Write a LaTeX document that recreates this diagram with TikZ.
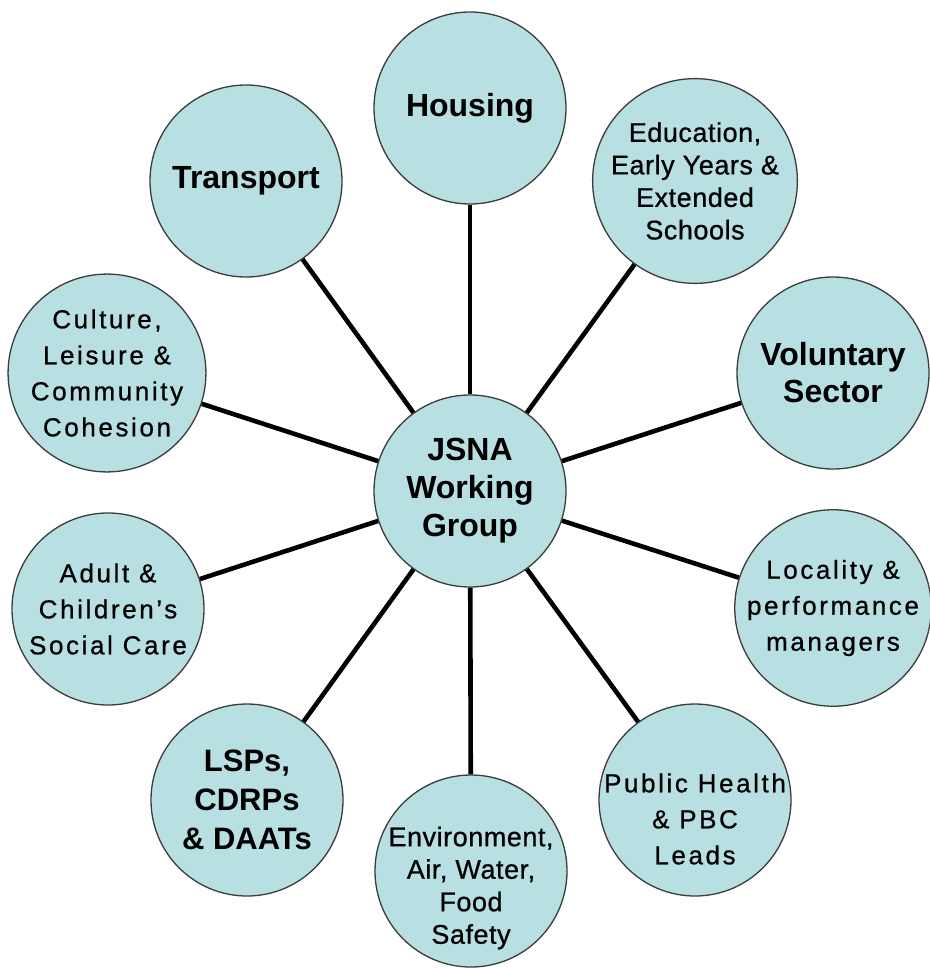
\documentclass[tikz,border=0pt]{standalone}
\usepackage{fontspec}
\setmainfont{Liberation Sans}
\newfontfamily\spacedfont[LetterSpace=10,FakeBold=0.7]{Liberation Sans}
\newfontfamily\plainfont[LetterSpace=2,FakeBold=0.7]{Liberation Sans}
\definecolor{cfill}{RGB}{184,223,226}
\definecolor{cedge}{RGB}{60,60,60}
\tikzset{
  bubble/.style={circle, draw=cedge, line width=1.3pt, fill=cfill, minimum size=192pt, inner sep=0pt, align=center, text=black},
  boldtxt/.style={font=\fontsize{32}{38}\selectfont\bfseries},
  spacedtxt/.style={font=\fontsize{26}{36}\spacedfont},
  plaintxt/.style={font=\fontsize{27}{32.5}\plainfont},
  txt/.style={inner sep=0pt, align=center},
  link/.style={line width=4.6pt, black}
}
\begin{document}
\begin{tikzpicture}[x=1pt,y=-1pt]
\useasboundingbox (0,0) rectangle (929,968);
% satellites
\node[bubble, boldtxt] (house) at (470,108) {Housing};
\node[bubble, boldtxt] (trans) at (246,181) {Transport};
\node[bubble, plaintxt] (edu) at (695,181) {Education,\\Early Years \&\\Extended\\Schools};
\node[bubble, font=\fontsize{32}{37}\selectfont\bfseries] (vol) at (833,373) {Voluntary\\Sector};
\node[bubble, spacedtxt] (cult) at (107,373) {Culture,\\Leisure \&\\Community\\Cohesion};
\node[bubble, spacedtxt] (adult) at (108,609) {Adult \&\\Children’s\\Social Care};
\node[bubble, spacedtxt] (loc) at (833,608) {Locality \&\\performance\\managers};
\node[bubble] (ph) at (695,800) {};
\node[txt, spacedtxt] (pht) at (695,819) {Public Health\\\& PBC\\Leads};
\node[bubble, font=\fontsize{31}{39}\selectfont\bfseries] (lsp) at (247,800) {LSPs,\\CDRPs\\\& DAATs};
\node[bubble] (env) at (471,871) {};
\node[txt, plaintxt] (envt) at (471,888) {Environment,\\Air, Water,\\Food\\Safety};
% centre
\node[bubble, boldtxt] (jsna) at (470,491) {JSNA\\Working\\Group};
% connectors
\foreach \s in {house,trans,edu,vol,cult,adult,loc,ph,lsp,env}
  \draw[link] (jsna) -- (\s);
\end{tikzpicture}
\end{document}
